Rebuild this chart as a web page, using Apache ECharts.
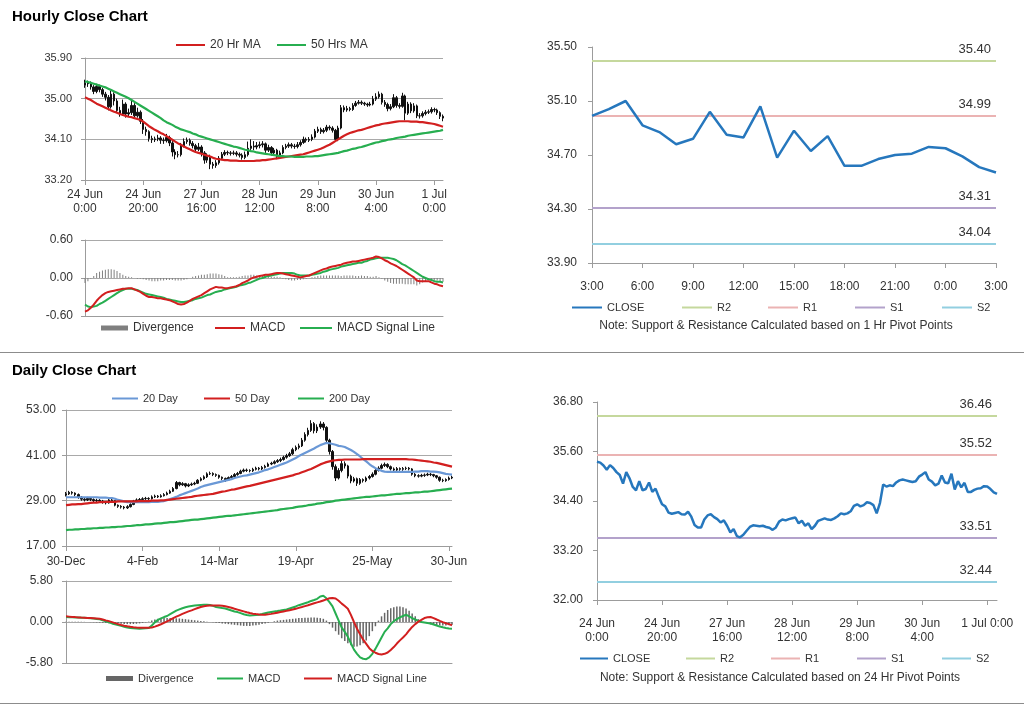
<!DOCTYPE html>
<html><head><meta charset="utf-8">
<script src="https://cdn.jsdelivr.net/npm/echarts@6/dist/echarts.min.js"></script>
<style>html,body{margin:0;padding:0;background:#fff}#c{width:1024px;height:706px}</style>
</head><body><div id="c"></div>
<script>
// ---------- tick labels / categories ----------
const hourTicks = ['24 Jun\n0:00','24 Jun\n20:00','27 Jun\n16:00','28 Jun\n12:00','29 Jun\n8:00','30 Jun\n4:00','1 Jul\n0:00'];
const hourTicks2 = ['24 Jun\n0:00','24 Jun\n20:00','27 Jun\n16:00','28 Jun\n12:00','29 Jun\n8:00','30 Jun\n4:00','1 Jul 0:00'];
const pivotHours = ['3:00','4:00','5:00','6:00','7:00','8:00','9:00','10:00','11:00','12:00','13:00','14:00','15:00','16:00','17:00','18:00','19:00','20:00','21:00','22:00','23:00','0:00','1:00','2:00','3:00'];
const dayTicks = ['30-Dec','4-Feb','14-Mar','19-Apr','25-May','30-Jun'];
const pivotNames = ['R2','R1','S1','S2'];
const pivot1Hr = [35.40, 34.99, 34.31, 34.04];
const pivot24Hr = [36.46, 35.52, 33.51, 32.44];

// ---------- hourly data ----------
const hourlyClose = [
35.35,35.33,35.26,35.16,35.27,35.20,35.10,35.03,34.82,35.10,
34.95,34.74,34.66,34.88,34.66,34.69,34.85,34.62,34.70,34.50,
34.32,34.27,34.12,34.09,34.11,34.13,34.08,34.07,34.14,34.02,
33.82,33.76,33.76,33.95,34.05,34.08,34.01,33.96,33.88,33.93,
33.80,33.64,33.72,33.55,33.52,33.58,33.68,33.77,33.81,33.80,
33.79,33.80,33.77,33.75,33.70,33.76,33.90,33.95,33.93,33.96,
33.98,34.00,33.86,33.92,33.80,33.86,33.72,33.80,33.92,33.95,
33.98,33.95,33.94,33.98,34.03,34.10,34.08,34.10,34.15,34.28,
34.32,34.27,34.30,34.37,34.35,34.30,34.10,34.35,34.80,34.75,
34.78,34.76,34.85,34.90,34.92,34.90,34.88,34.86,34.88,34.99,
35.04,35.10,34.92,34.87,34.78,34.82,35.02,34.85,34.83,35.06,
34.68,34.88,34.73,34.84,34.62,34.62,34.67,34.70,34.71,34.76,
34.75,34.69,34.61,34.57];
const hourlyOpen = [
35.30,35.35,35.33,35.26,35.16,35.27,35.20,35.10,35.03,34.82,
35.10,34.95,34.74,34.66,34.88,34.66,34.69,34.85,34.62,34.70,
34.50,34.32,34.27,34.12,34.09,34.11,34.13,34.08,34.07,34.14,
34.02,33.82,33.76,33.76,33.95,34.05,34.08,34.01,33.96,33.88,
33.93,33.80,33.64,33.72,33.55,33.52,33.58,33.68,33.77,33.81,
33.80,33.79,33.80,33.77,33.75,33.70,33.76,33.90,33.95,33.93,
33.96,33.98,34.00,33.86,33.92,33.80,33.86,33.72,33.80,33.92,
33.95,33.98,33.95,33.94,33.98,34.03,34.10,34.08,34.10,34.15,
34.28,34.32,34.27,34.30,34.37,34.35,34.30,34.10,34.35,34.80,
34.75,34.78,34.76,34.85,34.90,34.92,34.90,34.88,34.86,34.88,
34.99,35.04,35.10,34.92,34.87,34.78,34.82,35.02,34.85,34.83,
35.06,34.68,34.88,34.73,34.84,34.62,34.62,34.67,34.70,34.71,
34.76,34.75,34.69,34.61];
const hourlyHigh = [
35.42,35.40,35.38,35.30,35.33,35.31,35.24,35.15,35.08,35.18,
35.14,35.00,34.82,34.98,34.92,34.78,34.95,34.90,34.80,34.74,
34.55,34.38,34.30,34.18,34.16,34.20,34.17,34.14,34.22,34.18,
34.06,33.88,33.84,34.02,34.12,34.14,34.12,34.06,34.00,34.02,
33.97,33.84,33.79,33.76,33.60,33.64,33.73,33.82,33.86,33.85,
33.84,33.85,33.84,33.81,33.79,33.83,34.05,34.10,34.06,34.04,
34.05,34.06,34.03,33.98,33.95,33.91,33.89,33.85,33.97,34.00,
34.03,34.02,34.00,34.04,34.08,34.16,34.14,34.15,34.21,34.33,
34.38,34.36,34.35,34.42,34.41,34.39,34.33,34.40,34.86,34.85,
34.84,34.82,34.90,34.95,34.97,34.96,34.93,34.91,34.93,35.06,
35.12,35.16,35.13,34.97,34.91,34.88,35.10,35.06,34.90,35.13,
35.09,34.93,34.92,34.90,34.87,34.68,34.72,34.75,34.76,34.81,
34.80,34.78,34.72,34.65];
const hourlyLow = [
35.24,35.26,35.20,35.10,35.12,35.14,35.04,34.96,34.74,34.78,
34.85,34.68,34.60,34.62,34.58,34.60,34.64,34.56,34.58,34.44,
34.22,34.18,34.05,34.02,34.04,34.06,34.00,34.00,34.03,33.95,
33.72,33.66,33.70,33.72,33.92,34.00,33.96,33.90,33.80,33.84,
33.72,33.56,33.58,33.44,33.45,33.47,33.54,33.64,33.73,33.75,
33.74,33.75,33.72,33.70,33.65,33.66,33.72,33.86,33.86,33.88,
33.90,33.92,33.80,33.82,33.74,33.76,33.66,33.69,33.77,33.88,
33.91,33.90,33.89,33.90,33.94,34.00,34.03,34.04,34.06,34.12,
34.24,34.22,34.23,34.26,34.30,34.25,34.06,34.06,34.32,34.70,
34.71,34.72,34.73,34.82,34.87,34.86,34.84,34.82,34.83,34.85,
34.95,35.00,34.87,34.82,34.72,34.74,34.79,34.80,34.78,34.80,
34.52,34.64,34.68,34.69,34.57,34.56,34.58,34.63,34.66,34.67,
34.70,34.64,34.55,34.50];
const ma20Hr = [
35.03,35.00,34.97,34.93,34.89,34.86,34.83,34.80,34.77,34.74,
34.71,34.69,34.66,34.64,34.62,34.60,34.59,34.57,34.55,34.53,
34.49,34.44,34.39,34.35,34.31,34.28,34.24,34.21,34.17,34.13,
34.09,34.05,34.01,33.98,33.94,33.91,33.88,33.85,33.82,33.80,
33.78,33.76,33.74,33.72,33.69,33.67,33.66,33.65,33.64,33.64,
33.63,33.63,33.63,33.62,33.62,33.62,33.62,33.62,33.62,33.63,
33.63,33.64,33.64,33.65,33.66,33.67,33.68,33.69,33.70,33.71,
33.72,33.73,33.74,33.75,33.76,33.77,33.79,33.81,33.83,33.85,
33.87,33.89,33.92,33.95,33.98,34.02,34.06,34.10,34.14,34.18,
34.21,34.24,34.26,34.28,34.30,34.31,34.33,34.35,34.37,34.39,
34.41,34.42,34.44,34.45,34.46,34.47,34.48,34.49,34.50,34.50,
34.50,34.50,34.49,34.49,34.49,34.48,34.48,34.47,34.46,34.45,
34.44,34.42,34.40,34.38];
const ma50Hr = [
35.38,35.37,35.35,35.33,35.31,35.29,35.27,35.25,35.22,35.19,
35.16,35.13,35.10,35.07,35.04,35.01,34.97,34.93,34.89,34.85,
34.81,34.77,34.73,34.69,34.65,34.61,34.57,34.52,34.48,34.45,
34.42,34.38,34.35,34.32,34.30,34.28,34.26,34.23,34.21,34.18,
34.16,34.14,34.12,34.10,34.08,34.06,34.04,34.02,34.00,33.98,
33.96,33.94,33.93,33.91,33.89,33.87,33.86,33.84,33.83,33.81,
33.80,33.79,33.78,33.77,33.76,33.75,33.74,33.73,33.73,33.72,
33.72,33.72,33.71,33.71,33.71,33.71,33.72,33.72,33.72,33.73,
33.73,33.74,33.75,33.76,33.77,33.78,33.79,33.80,33.82,33.84,
33.85,33.87,33.89,33.90,33.92,33.93,33.95,33.97,33.99,34.01,
34.03,34.04,34.06,34.07,34.09,34.10,34.11,34.13,34.14,34.15,
34.16,34.18,34.19,34.20,34.21,34.22,34.23,34.24,34.25,34.26,
34.27,34.28,34.29,34.31];
const hourlyMacd = [
-0.53,-0.51,-0.47,-0.42,-0.36,-0.31,-0.27,-0.24,-0.22,-0.21,
-0.20,-0.19,-0.18,-0.17,-0.17,-0.16,-0.16,-0.18,-0.20,-0.22,
-0.25,-0.28,-0.30,-0.30,-0.31,-0.32,-0.32,-0.33,-0.34,-0.35,
-0.37,-0.39,-0.41,-0.42,-0.41,-0.39,-0.36,-0.33,-0.31,-0.29,
-0.27,-0.24,-0.21,-0.18,-0.16,-0.14,-0.15,-0.15,-0.16,-0.16,
-0.15,-0.14,-0.13,-0.11,-0.08,-0.06,-0.04,-0.01,0.01,0.02,
0.03,0.04,0.05,0.05,0.06,0.07,0.08,0.08,0.07,0.06,
0.05,0.04,0.03,0.02,0.01,0.02,0.03,0.04,0.06,0.08,
0.10,0.12,0.14,0.15,0.17,0.18,0.19,0.20,0.21,0.23,
0.24,0.25,0.26,0.26,0.27,0.28,0.29,0.30,0.31,0.32,
0.34,0.33,0.31,0.28,0.26,0.23,0.21,0.19,0.16,0.13,
0.10,0.07,0.04,0.01,-0.04,-0.05,-0.05,-0.05,-0.05,-0.07,
-0.09,-0.10,-0.12,-0.13];
const hourlySignal = [
-0.42,-0.45,-0.46,-0.45,-0.44,-0.41,-0.39,-0.36,-0.33,-0.30,
-0.27,-0.24,-0.21,-0.19,-0.17,-0.17,-0.17,-0.18,-0.19,-0.21,
-0.23,-0.25,-0.26,-0.27,-0.28,-0.29,-0.30,-0.31,-0.33,-0.34,
-0.35,-0.36,-0.37,-0.38,-0.38,-0.37,-0.36,-0.35,-0.33,-0.32,
-0.31,-0.29,-0.27,-0.26,-0.24,-0.22,-0.21,-0.20,-0.18,-0.17,
-0.16,-0.15,-0.14,-0.12,-0.11,-0.10,-0.08,-0.07,-0.05,-0.03,
-0.01,0.00,0.02,0.03,0.04,0.05,0.06,0.07,0.08,0.08,
0.08,0.08,0.07,0.05,0.04,0.04,0.04,0.04,0.05,0.06,
0.07,0.08,0.10,0.11,0.13,0.14,0.15,0.16,0.18,0.19,
0.20,0.21,0.22,0.23,0.24,0.24,0.26,0.27,0.29,0.30,
0.31,0.32,0.32,0.32,0.32,0.31,0.30,0.28,0.25,0.22,
0.20,0.17,0.14,0.11,0.08,0.05,0.02,0.00,-0.02,-0.03,
-0.05,-0.06,-0.06,-0.07];
const hourlyDiv = [
-0.08,-0.05,-0.01,0.03,0.08,0.10,0.12,0.13,0.14,0.14,
0.13,0.11,0.08,0.05,0.03,0.02,0.01,0.00,-0.01,-0.01,
-0.02,-0.03,-0.04,-0.05,-0.05,-0.05,-0.04,-0.04,-0.03,-0.03,
-0.03,-0.04,-0.04,-0.04,-0.03,-0.02,0.00,0.02,0.03,0.04,
0.05,0.05,0.06,0.07,0.07,0.07,0.06,0.05,0.03,0.01,
0.01,0.01,0.01,0.02,0.03,0.04,0.04,0.05,0.05,0.04,
0.04,0.04,0.03,0.02,0.02,0.02,0.02,0.01,-0.01,-0.02,
-0.03,-0.04,-0.04,-0.03,-0.03,-0.02,-0.01,0.00,0.01,0.02,
0.03,0.04,0.04,0.04,0.04,0.04,0.04,0.04,0.03,0.04,
0.04,0.04,0.04,0.03,0.03,0.04,0.03,0.03,0.02,0.02,
0.03,0.01,-0.01,-0.04,-0.06,-0.08,-0.09,-0.09,-0.09,-0.09,
-0.10,-0.10,-0.10,-0.10,-0.12,-0.10,-0.07,-0.05,-0.03,-0.04,
-0.04,-0.04,-0.06,-0.06];

// ---------- daily data ----------
const dailyClose = [
30.8,31.2,31.0,30.6,29.9,29.4,29.2,29.6,29.3,29.0,
29.1,28.9,28.6,28.4,29.2,29.0,27.8,27.5,27.3,27.1,
27.4,28.0,28.9,29.2,29.3,29.5,29.6,29.5,30.0,30.2,
30.0,30.3,30.6,31.0,31.5,32.2,33.8,33.2,33.5,32.9,
33.2,33.4,33.6,34.4,34.8,35.3,36.1,36.2,35.9,35.7,
35.2,34.9,34.5,35.1,35.4,35.9,36.2,36.8,37.1,37.0,
36.9,37.3,37.6,37.4,37.8,38.1,38.7,38.9,39.3,39.6,
39.9,40.5,40.9,41.4,42.5,43.1,43.5,45.0,46.5,47.6,
49.4,47.5,48.5,49.3,48.4,45.0,42.0,38.0,35.0,37.0,
38.8,38.2,35.5,34.2,34.8,33.6,34.6,34.3,35.0,35.4,
36.0,37.0,37.6,38.3,38.6,38.0,37.4,37.1,37.5,37.3,
37.5,37.6,37.4,36.0,35.6,35.5,35.7,35.8,36.0,35.9,
35.6,35.2,34.4,34.3,34.6,35.0,35.2];
const dailyOpen = [
30.5,30.8,31.2,31.0,30.6,29.9,29.4,29.2,29.6,29.3,
29.0,29.1,28.9,28.6,28.4,29.2,29.0,27.8,27.5,27.3,
27.1,27.4,28.0,28.9,29.2,29.3,29.5,29.6,29.5,30.0,
30.2,30.0,30.3,30.6,31.0,31.5,32.2,33.8,33.2,33.5,
32.9,33.2,33.4,33.6,34.4,34.8,35.3,36.1,36.2,35.9,
35.7,35.2,34.9,34.5,35.1,35.4,35.9,36.2,36.8,37.1,
37.0,36.9,37.3,37.6,37.4,37.8,38.1,38.7,38.9,39.3,
39.6,39.9,40.5,40.9,41.4,42.5,43.1,43.5,45.0,46.5,
47.6,49.4,47.5,48.5,49.3,48.4,45.0,42.0,38.0,35.0,
37.0,38.8,38.2,35.5,34.2,34.8,33.6,34.6,34.3,35.0,
35.4,36.0,37.0,37.6,38.3,38.6,38.0,37.4,37.1,37.5,
37.3,37.5,37.6,37.4,36.0,35.6,35.5,35.7,35.8,36.0,
35.9,35.6,35.2,34.4,34.3,34.6,35.0];
const dailyLow = [
30.1,30.5,30.6,30.2,29.5,29.0,28.8,28.9,28.9,28.6,
28.6,28.5,28.2,28.0,28.2,28.6,27.5,27.1,26.9,26.7,
26.8,27.2,27.8,28.7,28.9,29.0,29.2,29.1,29.3,29.7,
29.7,29.8,30.1,30.4,30.8,31.3,32.0,32.8,32.9,32.5,
32.6,32.9,33.1,33.4,34.1,34.5,35.0,35.8,35.5,35.3,
34.8,34.4,34.0,34.3,34.8,35.1,35.6,36.0,36.5,36.6,
36.5,36.6,37.0,37.0,37.1,37.5,37.9,38.4,38.6,39.0,
39.2,39.6,40.1,40.6,41.1,42.1,42.6,43.2,44.6,46.0,
47.2,46.8,46.9,48.0,47.6,44.4,41.2,37.2,34.2,34.6,
36.5,37.5,34.9,33.6,33.8,32.9,33.2,33.8,33.9,34.6,
35.1,35.7,36.7,37.3,37.9,37.6,37.0,36.6,36.8,36.9,
36.9,37.1,37.0,35.6,35.2,35.1,35.2,35.3,35.5,35.5,
35.2,34.8,34.0,33.9,34.0,34.3,34.7];
const dailyHigh = [
31.3,31.6,31.5,31.2,30.9,30.2,29.8,30.0,29.9,29.6,
29.5,29.4,29.2,28.9,29.5,29.5,29.1,28.0,27.8,27.6,
27.8,28.3,29.2,29.6,29.7,29.9,30.0,29.9,30.4,30.6,
30.5,30.7,31.0,31.4,31.9,32.6,34.2,34.0,33.9,33.7,
33.6,33.8,34.0,34.7,35.2,35.7,36.5,36.7,36.5,36.2,
35.9,35.4,35.1,35.4,35.8,36.3,36.6,37.2,37.5,37.5,
37.3,37.7,38.0,37.9,38.2,38.5,39.1,39.3,39.7,40.0,
40.4,40.9,41.4,41.9,43.0,43.6,44.1,45.6,47.1,48.3,
50.3,49.8,49.2,50.0,49.8,48.7,45.4,42.4,38.6,37.6,
39.5,39.4,38.5,35.9,35.3,35.1,35.0,34.9,35.4,35.8,
36.5,37.4,38.1,38.8,39.1,38.9,38.3,37.8,37.9,37.8,
37.9,38.0,37.9,37.6,36.3,36.0,36.1,36.2,36.4,36.3,
36.1,35.8,35.4,34.8,34.9,35.4,35.6];
const ma20Day = [
29.9,29.9,29.9,29.9,29.9,29.9,29.9,29.9,29.9,29.9,
29.9,29.8,29.8,29.8,29.7,29.7,29.5,29.2,29.0,28.8,
28.6,28.6,28.6,28.6,28.6,28.6,28.6,28.6,28.7,28.7,
28.7,28.8,28.9,29.1,29.4,29.7,30.0,30.4,30.7,31.0,
31.3,31.6,31.9,32.2,32.6,32.9,33.1,33.3,33.5,33.7,
33.9,34.1,34.3,34.5,34.7,35.0,35.2,35.4,35.6,35.7,
35.9,36.1,36.3,36.5,36.8,37.1,37.3,37.6,37.9,38.2,
38.5,38.8,39.1,39.5,39.9,40.3,40.8,41.2,41.6,42.0,
42.4,42.8,43.3,43.7,44.0,44.3,44.2,44.0,43.8,43.5,
43.4,43.2,42.8,42.4,41.9,41.3,40.7,40.0,39.4,38.7,
38.1,37.6,37.2,36.9,36.7,36.6,36.6,36.6,36.6,36.6,
36.6,36.6,36.6,36.6,36.7,36.7,36.8,36.8,36.8,36.7,
36.7,36.6,36.5,36.3,36.1,36.0,35.9];
const ma50Day = [
27.8,27.9,28.0,28.0,28.1,28.1,28.2,28.3,28.4,28.5,
28.5,28.6,28.6,28.7,28.7,28.7,28.7,28.8,28.8,28.8,
28.8,28.8,28.8,28.8,28.9,28.9,28.9,28.9,29.0,29.0,
29.0,29.1,29.1,29.2,29.3,29.4,29.5,29.6,29.7,29.8,
29.9,30.0,30.2,30.3,30.4,30.5,30.6,30.7,30.8,31.0,
31.2,31.4,31.5,31.7,31.9,32.0,32.2,32.4,32.6,32.8,
32.9,33.1,33.3,33.5,33.7,33.9,34.1,34.3,34.5,34.7,
34.9,35.1,35.3,35.5,35.7,36.0,36.2,36.5,36.8,37.1,
37.4,37.8,38.2,38.6,38.9,39.2,39.4,39.6,39.7,39.8,
39.8,39.9,39.9,39.9,39.9,39.9,39.9,40.0,40.0,40.0,
40.0,40.0,40.0,40.0,40.0,40.0,40.0,40.0,40.0,40.0,
40.0,40.0,39.9,39.9,39.8,39.7,39.6,39.5,39.4,39.3,
39.1,39.0,38.8,38.6,38.4,38.2,38.0];
const ma200Day = [
21.2,21.3,21.3,21.4,21.4,21.5,21.5,21.6,21.6,21.7,
21.7,21.8,21.8,21.9,21.9,22.0,22.0,22.1,22.1,22.2,
22.3,22.3,22.4,22.5,22.5,22.6,22.7,22.7,22.8,22.9,
23.0,23.0,23.1,23.2,23.3,23.3,23.4,23.5,23.6,23.7,
23.8,23.9,24.0,24.0,24.1,24.2,24.3,24.4,24.5,24.6,
24.7,24.8,24.9,25.0,25.0,25.1,25.2,25.3,25.4,25.5,
25.6,25.7,25.8,25.9,26.0,26.1,26.2,26.3,26.4,26.5,
26.7,26.8,26.9,27.0,27.1,27.3,27.4,27.5,27.6,27.8,
27.9,28.0,28.2,28.3,28.4,28.6,28.7,28.8,29.0,29.1,
29.2,29.3,29.4,29.5,29.6,29.7,29.8,29.9,30.0,30.0,
30.1,30.2,30.3,30.4,30.4,30.5,30.6,30.7,30.8,30.8,
30.9,31.0,31.0,31.1,31.2,31.2,31.3,31.4,31.4,31.5,
31.6,31.7,31.8,31.9,32.0,32.1,32.2];
const dailyMacd = [
0.70,0.68,0.67,0.65,0.63,0.61,0.60,0.57,0.53,0.48,
0.43,0.38,0.25,0.10,-0.05,-0.20,-0.32,-0.43,-0.55,-0.67,
-0.78,-0.85,-0.90,-0.93,-0.94,-0.93,-0.90,-0.85,-0.50,-0.05,
0.30,0.50,0.70,0.85,1.10,1.35,1.60,1.78,1.95,2.08,
2.18,2.26,2.32,2.37,2.41,2.43,2.44,2.40,2.28,2.13,
2.05,1.97,1.90,1.76,1.62,1.48,1.40,1.25,1.10,0.98,
0.93,0.96,1.00,1.04,1.13,1.25,1.35,1.43,1.50,1.55,
1.62,1.70,1.78,1.92,2.06,2.20,2.38,2.52,2.66,2.80,
2.98,3.12,3.28,3.60,3.70,3.35,2.80,2.20,1.20,0.20,
-0.80,-1.40,-2.10,-3.00,-3.90,-4.50,-5.00,-5.20,-5.26,-5.00,
-4.50,-3.80,-3.00,-2.20,-1.40,-0.90,-0.30,0.10,0.40,0.65,
0.85,1.03,0.80,0.55,0.35,0.15,0.00,-0.07,-0.15,-0.22,
-0.35,-0.50,-0.65,-0.75,-0.84,-0.92,-0.95];
const dailySignal = [
0.80,0.76,0.72,0.69,0.65,0.62,0.60,0.58,0.55,0.52,
0.49,0.46,0.35,0.23,0.12,-0.02,-0.16,-0.30,-0.42,-0.52,
-0.61,-0.68,-0.73,-0.77,-0.80,-0.81,-0.81,-0.80,-0.78,-0.65,
-0.50,-0.32,-0.12,0.08,0.30,0.55,0.75,0.95,1.15,1.33,
1.50,1.65,1.82,1.98,2.13,2.22,2.29,2.33,2.35,2.35,
2.33,2.29,2.22,2.13,2.02,1.88,1.75,1.62,1.50,1.38,
1.27,1.18,1.12,1.07,1.04,1.03,1.08,1.15,1.23,1.32,
1.41,1.50,1.58,1.67,1.76,1.88,2.00,2.12,2.25,2.38,
2.52,2.65,2.78,2.90,3.05,3.20,3.35,3.40,3.32,3.00,
2.60,2.25,1.88,1.00,0.00,-0.95,-1.75,-2.50,-3.10,-3.70,
-4.10,-4.35,-4.52,-4.60,-4.50,-4.32,-3.95,-3.55,-3.05,-2.60,
-2.20,-1.75,-1.20,-0.70,-0.30,0.05,0.30,0.56,0.66,0.70,
0.55,0.35,0.15,-0.02,-0.18,-0.30,-0.45];
const dailyDiv = [
0.05,0.05,0.05,0.04,0.04,0.03,0.02,0.00,-0.02,-0.04,
-0.06,-0.08,-0.10,-0.13,-0.16,-0.18,-0.20,-0.22,-0.25,-0.28,
-0.30,-0.30,-0.28,-0.25,-0.20,-0.12,-0.05,0.05,0.20,0.35,
0.45,0.50,0.55,0.55,0.55,0.55,0.52,0.50,0.45,0.40,
0.35,0.30,0.25,0.20,0.15,0.10,0.05,0.00,-0.05,-0.10,
-0.15,-0.20,-0.25,-0.30,-0.35,-0.40,-0.45,-0.50,-0.55,-0.55,
-0.55,-0.50,-0.45,-0.40,-0.30,-0.20,-0.10,0.00,0.10,0.20,
0.25,0.30,0.35,0.40,0.45,0.50,0.55,0.55,0.60,0.60,
0.65,0.65,0.60,0.55,0.45,0.20,-0.30,-0.80,-1.30,-1.80,
-2.30,-2.70,-3.00,-3.30,-3.50,-3.45,-3.30,-3.00,-2.60,-2.00,
-1.30,-0.60,0.20,0.80,1.30,1.70,1.95,2.10,2.20,2.20,
2.10,1.90,1.60,1.20,0.80,0.40,0.10,-0.10,-0.25,-0.35,
-0.40,-0.45,-0.50,-0.50,-0.50,-0.45,-0.40];

// ---------- styling constants ----------
const FONT = '"Liberation Sans", Arial, sans-serif';
const TXT = '#333333';
const AX = '#9c9c9c';
const GRID = '#a9a9a9';
const C = {
  red: '#d21f1f', green: '#27ae50', blue: '#6a98d6', close: '#2677bd',
  r2: '#c5d89d', r1: '#ebb3b3', s1: '#b3a2cb', s2: '#92cfe0',
  div1: '#7f7f7f', div2: '#666666', bar: '#111111'
};
const pivotColors = [C.r2, C.r1, C.s1, C.s2];

const hourIdx = hourlyClose.map((_, i) => i);
const dayIdx = dailyClose.map((_, i) => i);
const pivotIdx = pivotHours.map((_, i) => i);

function catAxis(gridIndex, data, opts) {
  return Object.assign({
    type: 'category', gridIndex, data, boundaryGap: false,
    axisLine: { show: true, onZero: false, lineStyle: { color: AX, width: 1 } },
    axisTick: { show: false },
    axisLabel: { show: false },
    splitLine: { show: false }
  }, opts);
}
function valAxis(gridIndex, min, max, interval, opts) {
  return Object.assign({
    type: 'value', gridIndex, min, max, interval,
    axisLine: { show: true, lineStyle: { color: AX, width: 1 } },
    axisTick: { show: true, length: 4, lineStyle: { color: AX } },
    axisLabel: { formatter: v => v.toFixed(2), color: TXT, fontSize: 12, margin: 12, fontFamily: FONT },
    splitLine: { show: true, lineStyle: { color: GRID, width: 1 } }
  }, opts);
}
function lineSeries(name, data, color, xi, yi, width, z) {
  return { name, type: 'line', data, xAxisIndex: xi, yAxisIndex: yi, symbol: 'none', showSymbol: false,
    lineStyle: { color, width: width || 2 }, itemStyle: { color }, z: z || 3, silent: true };
}
// line-type legend entries are drawn as a thin bar (no marker)
function legendItem(name, x, cy, w, fs, opts) {
  return Object.assign({
    data: [name], left: x, top: cy - 5, padding: 0, itemGap: 0, itemWidth: w, itemHeight: 2, icon: 'rect',
    selectedMode: false, textStyle: { fontSize: fs, color: TXT, fontFamily: FONT }
  }, opts);
}
function pivotSeries(names, levels, xi, yi) {
  return names.map((n, k) => ({
    name: n, type: 'line', data: [], xAxisIndex: xi, yAxisIndex: yi, symbol: 'none',
    lineStyle: { color: pivotColors[k], width: 2 }, itemStyle: { color: pivotColors[k] }, z: 2,
    markLine: {
      silent: true, symbol: ['none', 'none'], animation: false,
      lineStyle: { color: pivotColors[k], width: 2, type: 'solid' },
      label: { position: 'insideEndTop', formatter: p => p.value.toFixed(2), color: TXT, fontSize: 13, fontFamily: FONT },
      data: [{ yAxis: levels[k] }]
    }
  }));
}

const option = {
  animation: false,
  backgroundColor: '#ffffff',
  textStyle: { fontFamily: FONT },
  title: [
    { text: 'Hourly Close Chart', left: 12, top: 9, padding: 0, textStyle: { fontSize: 15, fontWeight: 'bold', color: '#000', fontFamily: FONT } },
    { text: 'Daily Close Chart', left: 12, top: 363, padding: 0, textStyle: { fontSize: 15, fontWeight: 'bold', color: '#000', fontFamily: FONT } }
  ],
  graphic: [
    { type: 'line', shape: { x1: 0, y1: 352.5, x2: 1024, y2: 352.5 }, style: { stroke: '#8c8c8c', lineWidth: 1 } },
    { type: 'line', shape: { x1: 0, y1: 703.5, x2: 1024, y2: 703.5 }, style: { stroke: '#8c8c8c', lineWidth: 1 } },
    { type: 'text', x: 776, y: 326, style: { text: 'Note: Support & Resistance Calculated based on 1 Hr Pivot Points', fontSize: 12, fontFamily: FONT, fill: TXT, align: 'center', verticalAlign: 'middle' } },
    { type: 'text', x: 780, y: 678, style: { text: 'Note: Support & Resistance Calculated based on 24 Hr Pivot Points', fontSize: 12, fontFamily: FONT, fill: TXT, align: 'center', verticalAlign: 'middle' } }
  ],
  grid: [
    { left: 85, top: 58, width: 358, height: 122, outerBoundsMode: 'none' },
    { left: 85, top: 240, width: 358, height: 76, outerBoundsMode: 'none' },
    { left: 592, top: 47, width: 404, height: 216, outerBoundsMode: 'none' },
    { left: 66, top: 410, width: 386, height: 136, outerBoundsMode: 'none' },
    { left: 66, top: 581, width: 386, height: 82, outerBoundsMode: 'none' },
    { left: 597, top: 402, width: 400, height: 198, outerBoundsMode: 'none' }
  ],
  xAxis: [
    catAxis(0, hourIdx, {
      axisTick: { show: true, interval: 19, length: 5, lineStyle: { color: AX } },
      axisLabel: { show: true, interval: 19, formatter: (v, i) => hourTicks[i / 20], color: TXT, fontSize: 12, lineHeight: 14, margin: 8, fontFamily: FONT }
    }),
    catAxis(1, hourIdx),
    catAxis(2, pivotIdx, {
      axisTick: { show: true, interval: 2, length: 5, lineStyle: { color: AX } },
      axisLabel: { show: true, interval: 2, formatter: (v, i) => pivotHours[i], color: TXT, fontSize: 12, margin: 18, fontFamily: FONT }
    }),
    catAxis(3, dayIdx, {
      axisTick: { show: true, interval: 24, length: 5, lineStyle: { color: AX } },
      axisLabel: { show: true, interval: 24, formatter: (v, i) => dayTicks[i / 25], color: TXT, fontSize: 12, margin: 10, fontFamily: FONT }
    }),
    catAxis(4, dayIdx),
    catAxis(5, hourIdx, {
      axisTick: { show: true, interval: 19, length: 5, lineStyle: { color: AX } },
      axisLabel: { show: true, interval: 19, formatter: (v, i) => hourTicks2[i / 20], color: TXT, fontSize: 12, lineHeight: 14, margin: 17, fontFamily: FONT }
    })
  ],
  yAxis: [
    valAxis(0, 33.2, 35.9, 0.9, { axisLabel: { formatter: v => v.toFixed(2), color: TXT, fontSize: 11, margin: 13, fontFamily: FONT } }),
    valAxis(1, -0.6, 0.6, 0.6),
    valAxis(2, 33.9, 35.5, 0.4, { splitLine: { show: false }, axisLabel: { formatter: v => v.toFixed(2), color: TXT, fontSize: 12, margin: 15, fontFamily: FONT } }),
    valAxis(3, 17, 53, 12, { axisLabel: { formatter: v => v.toFixed(2), color: TXT, fontSize: 12, margin: 10, fontFamily: FONT } }),
    valAxis(4, -5.8, 5.8, 5.8, { axisLabel: { formatter: v => v.toFixed(2), color: TXT, fontSize: 12, margin: 13, fontFamily: FONT } }),
    valAxis(5, 32, 36.8, 1.2, { splitLine: { show: false }, axisLabel: { formatter: v => v.toFixed(2), color: TXT, fontSize: 12, margin: 14, fontFamily: FONT } })
  ],
  legend: [
    legendItem('20 Hr MA', 176, 44, 29, 12),
    legendItem('50 Hrs MA', 277, 44, 29, 12),
    legendItem('Divergence', 101, 327, 27, 12, { itemHeight: 5 }),
    legendItem('MACD', 215, 327, 30, 12),
    legendItem('MACD Signal Line', 300, 327, 32, 12),
    legendItem('CLOSE', 572, 307, 30, 11),
    legendItem('R2', 682, 307, 30, 11),
    legendItem('R1', 768, 307, 30, 11),
    legendItem('S1', 855, 307, 30, 11),
    legendItem('S2', 942, 307, 30, 11),
    legendItem('20 Day', 112, 398, 26, 11),
    legendItem('50 Day', 204, 398, 26, 11),
    legendItem('200 Day', 298, 398, 26, 11),
    legendItem('Divergence ', 106, 678, 27, 11, { itemHeight: 5 }),
    legendItem('MACD ', 217, 678, 26, 11),
    legendItem('MACD Signal Line ', 304, 678, 28, 11),
    legendItem('CLOSE ', 580, 658, 28, 11),
    legendItem('R2 ', 686, 658, 29, 11),
    legendItem('R1 ', 771, 658, 29, 11),
    legendItem('S1 ', 857, 658, 29, 11),
    legendItem('S2 ', 942, 658, 29, 11)
  ],
  series: [
    // hourly price bars
    { name: 'Hourly', type: 'candlestick', xAxisIndex: 0, yAxisIndex: 0, barWidth: 2, silent: true,
      data: hourlyClose.map((c, i) => [hourlyOpen[i], c, hourlyLow[i], hourlyHigh[i]]),
      itemStyle: { color: C.bar, color0: C.bar, borderColor: C.bar, borderColor0: C.bar, borderWidth: 1 } },
    lineSeries('20 Hr MA', ma20Hr, C.red, 0, 0, 2.2),
    lineSeries('50 Hrs MA', ma50Hr, C.green, 0, 0, 2.2),
    // hourly MACD
    { name: 'Divergence', type: 'bar', xAxisIndex: 1, yAxisIndex: 1, data: hourlyDiv, barWidth: 1, itemStyle: { color: C.div1 }, silent: true },
    lineSeries('MACD Signal Line', hourlySignal, C.green, 1, 1, 2),
    lineSeries('MACD', hourlyMacd, C.red, 1, 1, 2),
    // 1 hr pivots
    ...pivotSeries(pivotNames, pivot1Hr, 2, 2),
    lineSeries('CLOSE', hourlyClose.slice(99), C.close, 2, 2, 2.5, 5),
    // daily price bars
    { name: 'Daily', type: 'candlestick', xAxisIndex: 3, yAxisIndex: 3, barWidth: 2, silent: true,
      data: dailyClose.map((c, i) => [dailyOpen[i], c, dailyLow[i], dailyHigh[i]]),
      itemStyle: { color: C.bar, color0: C.bar, borderColor: C.bar, borderColor0: C.bar, borderWidth: 1 } },
    lineSeries('20 Day', ma20Day, C.blue, 3, 3, 2.2),
    lineSeries('50 Day', ma50Day, C.red, 3, 3, 2.2),
    lineSeries('200 Day', ma200Day, C.green, 3, 3, 2.2),
    // daily MACD
    { name: 'Divergence ', type: 'bar', xAxisIndex: 4, yAxisIndex: 4, data: dailyDiv, barWidth: 1.5, itemStyle: { color: C.div2 }, silent: true },
    lineSeries('MACD ', dailyMacd, C.green, 4, 4, 2),
    lineSeries('MACD Signal Line ', dailySignal, C.red, 4, 4, 2),
    // 24 hr pivots
    ...pivotSeries(pivotNames.map(n => n + ' '), pivot24Hr, 5, 5),
    lineSeries('CLOSE ', hourlyClose, C.close, 5, 5, 2.5, 5)
  ]
};

const chart = echarts.init(document.getElementById('c'), null, { renderer: 'canvas', width: 1024, height: 706 });
chart.setOption(option);
</script>
</body></html>
